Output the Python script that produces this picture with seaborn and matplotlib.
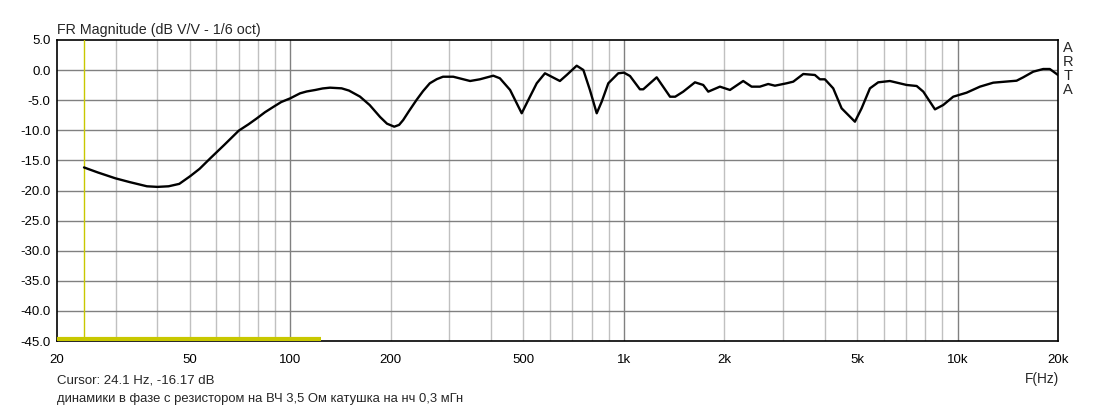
import numpy as np
import pandas as pd
import matplotlib
matplotlib.use("Agg")
import matplotlib.pyplot as plt
from matplotlib.ticker import FixedLocator, NullFormatter, NullLocator
import seaborn as sns

# ---- data ----
freq_hz = [24.1, 26.5, 29.9, 33.0, 37.2, 40.0, 43.2, 46.5, 50.2, 53.5, 57.6, 63.5,
           70.1, 75.0, 79.5, 84.0, 89.2, 94.0, 100, 107, 112, 118.9, 125, 131.6,
           142.6, 150, 161.8, 173, 186, 195, 205, 212, 218, 227, 239, 250, 262,
           275, 287, 308, 346, 370, 406, 425, 456, 494, 517, 548, 580, 643, 674,
           722, 756, 791, 829, 858, 898, 962, 1000, 1043, 1117, 1143, 1254, 1375,
           1425, 1506, 1633, 1729, 1790, 1940, 2079, 2278, 2414, 2556, 2707, 2836,
           3074, 3218, 3448, 3736, 3868, 4004, 4240, 4493, 4925, 5157, 5463, 5784,
           6270, 7037, 7541, 7895, 8556, 9057, 9705, 10645, 11670, 12790, 15030,
           15730, 16860, 18060, 18900, 20000]
mag_db = [-16.17, -17.0, -17.97, -18.6, -19.3, -19.4, -19.3, -18.9, -17.6, -16.4,
          -14.65, -12.4, -10.06, -9.0, -8.0, -7.0, -6.08, -5.3, -4.69, -3.86,
          -3.55, -3.3, -3.05, -2.92, -3.03, -3.4, -4.4, -5.8, -7.8, -8.9, -9.4,
          -9.1, -8.3, -6.8, -4.97, -3.5, -2.19, -1.5, -1.1, -1.1, -1.81, -1.53,
          -0.93, -1.36, -3.3, -7.17, -4.97, -2.19, -0.53, -1.81, -0.81, 0.73,
          0.02, -3.3, -7.17, -5.25, -2.19, -0.53, -0.42, -0.98, -3.19, -3.19,
          -1.2, -4.42, -4.42, -3.58, -2.03, -2.47, -3.58, -2.75, -3.3, -1.81,
          -2.75, -2.75, -2.31, -2.59, -2.19, -1.92, -0.65, -0.81, -1.53, -1.53,
          -3.03, -6.35, -8.57, -6.35, -3.03, -2.03, -1.81, -2.47, -2.64, -3.58,
          -6.52, -5.8, -4.42, -3.75, -2.75, -2.09, -1.76, -1.2, -0.26, 0.18,
          0.18, -0.81]

x_tick_values = [20, 50, 100, 200, 500, 1000, 2000, 5000, 10000, 20000]
x_tick_labels = ["20", "50", "100", "200", "500", "1k", "2k", "5k", "10k", "20k"]
y_tick_values = [5, 0, -5, -10, -15, -20, -25, -30, -35, -40, -45]
y_tick_labels = ["5.0", "0.0", "-5.0", "-10.0", "-15.0", "-20.0", "-25.0",
                 "-30.0", "-35.0", "-40.0", "-45.0"]
cursor_freq = 24.1
level_marker_freq = [20, 124]
level_marker_db = [-44.7, -44.7]

title_text = "FR Magnitude (dB V/V - 1/6 oct)"
cursor_text = "Cursor: 24.1 Hz, -16.17 dB"
note_text = "динамики в фазе с резистором на ВЧ 3,5 Ом катушка на нч 0,3 мГн"
xlabel_text = "F(Hz)"
brand_letters = ["A", "R", "T", "A"]

# ---- figure ----
sns.set_style("white")
plt.rcParams["font.family"] = ["Liberation Sans", "DejaVu Sans"]

W, H = 1114, 411
fig = plt.figure(figsize=(W / 100, H / 100), dpi=100)
L, R, T, B = 57, 1058, 40, 341
ax = fig.add_axes([L / W, 1 - B / H, (R - L) / W, (B - T) / H])

df = pd.DataFrame({"f": freq_hz, "db": mag_db})
sns.lineplot(data=df, x="f", y="db", ax=ax, color="black", linewidth=1.7,
             sort=False, zorder=5)

ax.set_xscale("log")
ax.set_xlim(20, 20000)
ax.set_ylim(-45, 5)

# grid lines
minor = []
for dec in [10, 100, 1000, 10000]:
    for m in range(2, 10):
        v = dec * m
        if 20 < v < 20000:
            minor.append(v)
for v in minor:
    ax.axvline(v, color="#c0c0c0", linewidth=1.0, zorder=1)
for v in [100, 1000, 10000]:
    ax.axvline(v, color="#808080", linewidth=1.0, zorder=2)
for v in y_tick_values[1:-1]:
    ax.axhline(v, color="#808080", linewidth=1.0, zorder=2)

# cursor & level marker
ax.axvline(cursor_freq, color="#c8c800", linewidth=1.0, zorder=3)
ax.plot(level_marker_freq, level_marker_db, color="#c8c800", linewidth=3, zorder=3,
        solid_capstyle="butt")

ax.xaxis.set_major_locator(FixedLocator(x_tick_values))
ax.xaxis.set_minor_locator(NullLocator())
ax.xaxis.set_minor_formatter(NullFormatter())
ax.set_xticklabels(x_tick_labels)
ax.set_yticks(y_tick_values)
ax.set_yticklabels(y_tick_labels)
ax.tick_params(axis="both", length=0, labelsize=9.5, colors="black")
ax.tick_params(axis="x", pad=9)
ax.tick_params(axis="y", pad=4.5)
ax.set_xlabel("")
ax.set_ylabel("")
for s in ax.spines.values():
    s.set_color("black")
    s.set_linewidth(1.2)
    s.set_visible(True)

def fx(px):
    return px / W

def fy(py):
    return 1 - py / H

fig.text(fx(57), fy(34), title_text, fontsize=10.3, ha="left", va="baseline")
fig.text(fx(57), fy(383), cursor_text, fontsize=9.5, ha="left", va="baseline")
fig.text(fx(57), fy(402), note_text, fontsize=9.4, ha="left", va="baseline")
fig.text(fx(1059), fy(383), xlabel_text, fontsize=9.8, ha="right", va="baseline")
for i, letter in enumerate(brand_letters):
    fig.text(fx(1068), fy(47.5 + i * 14.3), letter, fontsize=10.5, ha="center",
             va="center")

fig.savefig("out.png", dpi=100)
